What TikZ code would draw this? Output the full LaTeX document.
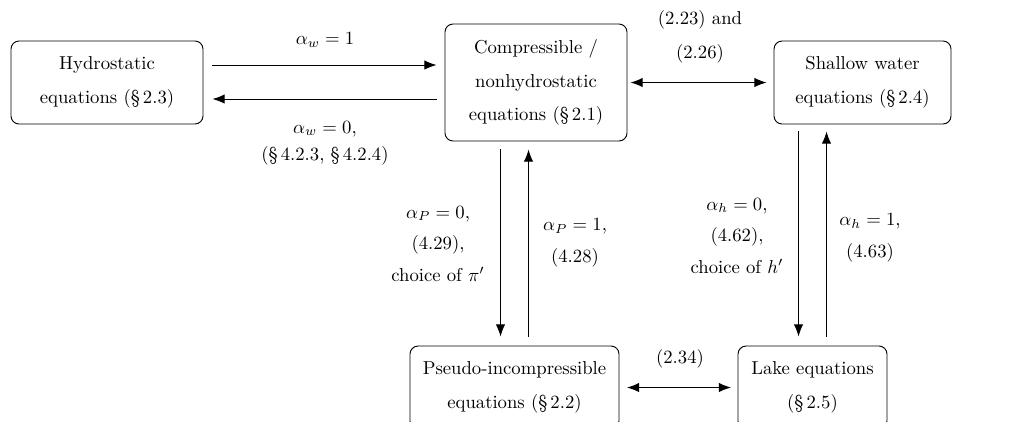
\documentclass[tikz,border=0pt]{standalone}
\usetikzlibrary{arrows.meta,calc}
\begin{document}
\begin{tikzpicture}[x=0.535pt,y=-0.535pt,
  box/.style={draw, rounded corners=4.3pt, line width=0.5pt, align=center, inner sep=0pt,
    font=\fontsize{10}{18}\selectfont},
  lab/.style={align=center, inner sep=0pt, font=\fontsize{10}{17}\selectfont},
  arr/.style={-{Latex[length=6.5pt,width=5pt]}, line width=0.5pt},
  darr/.style={{Latex[length=6.5pt,width=5pt]}-{Latex[length=6.5pt,width=5pt]}, line width=0.5pt}]
\useasboundingbox (0,0) rectangle (1010,421);
\node[box, minimum width={192*0.535pt}, minimum height={83*0.535pt}] (hyd) at (107,82.5)
  {Hydrostatic\\equations (\S\,2.3)};
\node[box, minimum width={182*0.535pt}, minimum height={117*0.535pt}] (comp) at (536,82.5)
  {Compressible /\\nonhydrostatic\\equations (\S\,2.1)};
\node[box, minimum width={177*0.535pt}, minimum height={83*0.535pt}] (sw) at (862.5,82.5)
  {Shallow water\\equations (\S\,2.4)};
\node[box, minimum width={209*0.535pt}, minimum height={83*0.535pt}] (pseudo) at (514.5,387.5)
  {Pseudo-incompressible\\equations (\S\,2.2)};
\node[box, minimum width={149*0.535pt}, minimum height={83*0.535pt}] (lake) at (812.5,387.5)
  {Lake equations\\(\S\,2.5)};

\draw[arr] ($(hyd.east)+(9,-17.5)$) -- ($(comp.west |- hyd.east)+(-8,-17.5)$);
\draw[arr] ($(comp.west |- hyd.east)+(-8,16.5)$) -- ($(hyd.east)+(9,16.5)$);
\draw[darr] ($(comp.east)+(3,0)$) -- ($(sw.west)+(-7,0)$);
\draw[arr] ($(comp.south -| pseudo.north)+(-14,8)$) -- ($(pseudo.north)+(-14,-9)$);
\draw[arr] ($(pseudo.north)+(14,-9)$) -- ($(comp.south -| pseudo.north)+(14,8)$);
\draw[arr] ($(sw.south -| lake.north)+(-14,7)$) -- ($(lake.north)+(-14,-9)$);
\draw[arr] ($(lake.north)+(14,-9)$) -- ($(sw.south -| lake.north)+(14,7)$);
\draw[darr] ($(pseudo.east)+(7.5,0)$) -- ($(lake.west)+(-6.5,0)$);

\node[lab] (lw1) at (325,40) {$\alpha_w = 1$};
\node[lab, font=\fontsize{10}{14.5}\selectfont] (lw0) at (325,143) {$\alpha_w = 0$,\\(\S\,4.2.3, \S\,4.2.4)};
\node[lab, font=\fontsize{10}{18}\selectfont] (ltop) at (700,37) {(2.23) and\\(2.26)};
\node[lab] (lp0) at (438,244) {$\alpha_P = 0$,\\(4.29),\\choice of $\pi'$};
\node[lab] (lp1) at (575,243) {$\alpha_P = 1$,\\(4.28)};
\node[lab] (lh0) at (737,236) {$\alpha_h = 0$,\\(4.62),\\choice of $h'$};
\node[lab] (lh1) at (870,238) {$\alpha_h = 1$,\\(4.63)};
\node[lab] (l234) at (680,359) {(2.34)};
\end{tikzpicture}
\end{document}
